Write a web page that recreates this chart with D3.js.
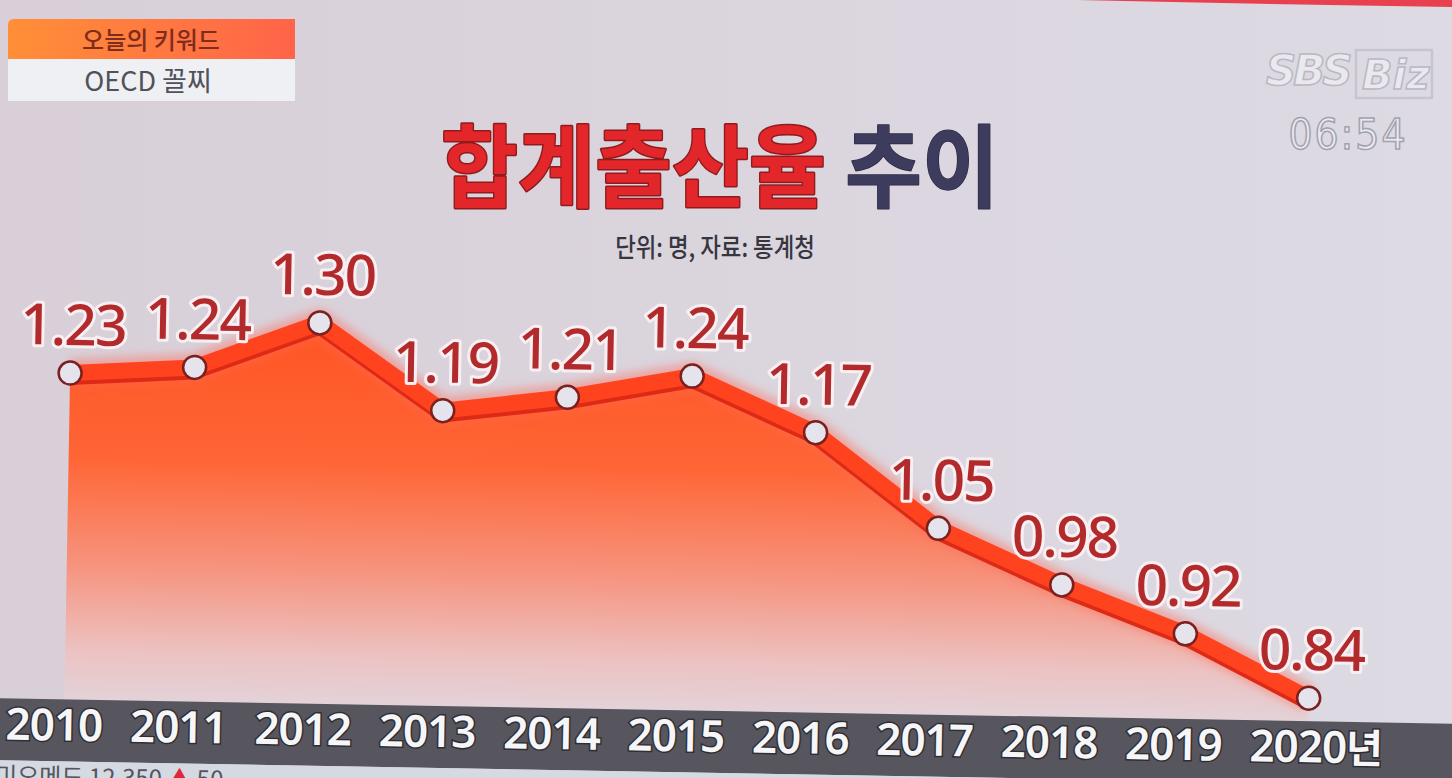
<!DOCTYPE html>
<html>
<head>
<meta charset="utf-8">
<script src="https://cdn.jsdelivr.net/npm/d3@7"></script>
<style>
body { margin: 0; background: #dbd5de; overflow: hidden; }
svg { display: block; }
</style>
</head>
<body>
<div id="chart-area"></div>
<script>

var width = 1452,
    height = 778;

var years = ["2010", "2011", "2012", "2013", "2014", "2015", "2016", "2017", "2018", "2019", "2020"];
var rates = [1.23, 1.24, 1.30, 1.19, 1.21, 1.24, 1.17, 1.05, 0.98, 0.92, 0.84];
var yearSuffix = "년";

var titleMain = "합계출산율";
var titleTail = " 추이";
var subtitle = "단위: 명, 자료: 통계청";
var keywordHead = "오늘의 키워드";
var keywordText = "OECD 꼴찌";

var data = years.map(function(y, i) { return {YEAR: y, RATE: rates[i]}; });

var baseY = 711;      // top of the year bar
var tilt = 1;         // photo of the screen is slightly rotated

var xScale = d3.scalePoint()
    .domain(years)
    .range([68, 1312]);

var yScale = d3.scaleLinear()
    .domain(d3.extent(rates))
    .range([688, 330]);

var formatRate = d3.format(".2f");

var lineGenerator = d3.line()
    .x(function(d) { return xScale(d.YEAR); })
    .y(function(d) { return yScale(d.RATE); });

var areaGenerator = d3.area()
    .x(function(d) { return xScale(d.YEAR); })
    .y0(baseY)
    .y1(function(d) { return yScale(d.RATE); });

var svg = d3.select("#chart-area").append("svg")
    .attr("width", width)
    .attr("height", height);

setup();
drawHeader();
drawChart();

function setup() {
    var defs = svg.append("defs");

    var bg = defs.append("linearGradient").attr("id", "bg-grad")
        .attr("x1", 0).attr("x2", 1).attr("y1", 0).attr("y2", 0);
    bg.append("stop").attr("offset", 0).attr("stop-color", "#d8cfd8");
    bg.append("stop").attr("offset", 1).attr("stop-color", "#dddae3");

    var fill = defs.append("linearGradient").attr("id", "area-grad")
        .attr("gradientUnits", "userSpaceOnUse")
        .attr("x1", 0).attr("x2", 0).attr("y1", 320).attr("y2", baseY);
    fill.append("stop").attr("offset", 0).attr("stop-color", "#ff5323");
    fill.append("stop").attr("offset", 0.38).attr("stop-color", "#ff6535");
    fill.append("stop").attr("offset", 0.66).attr("stop-color", "#f6947f");
    fill.append("stop").attr("offset", 0.88).attr("stop-color", "#ecc3c3");
    fill.append("stop").attr("offset", 1).attr("stop-color", "#e3d2d8");

    var kw = defs.append("linearGradient").attr("id", "kw-grad")
        .attr("x1", 0).attr("x2", 1).attr("y1", 0).attr("y2", 0);
    kw.append("stop").attr("offset", 0).attr("stop-color", "#ff8f37");
    kw.append("stop").attr("offset", 1).attr("stop-color", "#ff6449");

    defs.append("filter").attr("id", "glow")
        .attr("x", "-10%").attr("y", "-10%").attr("width", "120%").attr("height", "120%")
        .append("feGaussianBlur").attr("stdDeviation", 4);

    svg.append("rect")
        .attr("width", width).attr("height", height)
        .attr("fill", "url(#bg-grad)");

    // red strip along the top right edge
    svg.append("path")
        .attr("d", "M990,-2 L1452,-2 L1452,7 Q1200,3 990,-2 Z")
        .attr("fill", "#e8404e");
}

function drawHeader() {
    // keyword box, top left
    var kw = svg.append("g").attr("id", "keyword-group");
    kw.append("path")
        .attr("d", "M8,25 Q8,19 14,19 L295,19 L295,59 L8,59 Z")
        .attr("fill", "url(#kw-grad)");
    kw.append("rect")
        .attr("x", 8).attr("y", 59).attr("width", 287).attr("height", 42)
        .attr("fill", "#eef0f4");
    kw.append("text")
        .attr("x", 151).attr("y", 49)
        .attr("text-anchor", "middle")
        .style("font", "500 24px 'Noto Sans CJK KR'")
        .attr("fill", "#7e2c1c")
        .text(keywordHead);
    kw.append("text")
        .attr("x", 148).attr("y", 91)
        .attr("text-anchor", "middle")
        .style("font", "400 27px 'Noto Sans CJK KR'")
        .attr("fill", "#515159")
        .text(keywordText);

    // channel logo and clock
    var logo = svg.append("g").attr("id", "logo-group")
        .attr("fill", "#eae9ef").attr("stroke", "#b9b8c3").attr("stroke-width", 1.5);
    logo.append("text")
        .attr("x", 1266).attr("y", 85)
        .style("font", "italic 700 42px 'DejaVu Sans'")
        .attr("letter-spacing", -3)
        .text("SBS");
    logo.append("rect")
        .attr("x", 1356).attr("y", 50).attr("width", 76).attr("height", 48)
        .attr("fill", "none").attr("stroke", "#c6c5ce").attr("stroke-width", 2.5);
    logo.append("text")
        .attr("x", 1362).attr("y", 89)
        .style("font", "italic 700 40px 'DejaVu Sans'")
        .text("Biz");
    logo.append("text")
        .attr("x", 1348).attr("y", 149)
        .attr("text-anchor", "middle")
        .attr("stroke", "#a3a2ae")
        .style("font", "400 42px 'DejaVu Sans Condensed'")
        .attr("letter-spacing", 2)
        .text("06:54");

    // title
    var title = svg.append("text")
        .attr("transform", "translate(720,200) scale(0.93,1)")
        .attr("text-anchor", "middle")
        .style("font", "700 90px 'Noto Sans CJK KR'")
        .attr("paint-order", "stroke")
        .attr("stroke-linejoin", "round");
    title.append("tspan")
        .attr("fill", "#e3262a")
        .attr("stroke", "#8e1c1e").attr("stroke-width", 3)
        .text(titleMain);
    title.append("tspan")
        .attr("fill", "#3d3c5f")
        .attr("stroke", "#2a2a40").attr("stroke-width", 1.5)
        .text(titleTail);

    svg.append("text")
        .attr("transform", "translate(715,257) scale(0.86,1)")
        .attr("text-anchor", "middle")
        .style("font", "500 26px 'Noto Sans CJK KR'")
        .attr("fill", "#36363f")
        .text(subtitle);
}

function drawChart() {
    var chart = svg.append("g")
        .attr("id", "chart-svg")
        .attr("transform", "rotate(" + tilt + ",726,500)");

    chart.append("path")
        .datum(data)
        .attr("class", "area")
        .attr("d", areaGenerator)
        .attr("fill", "url(#area-grad)");

    // soft glow, dark lower edge, then the bright band
    chart.append("path")
        .datum(data)
        .attr("d", lineGenerator)
        .attr("fill", "none")
        .attr("stroke", "#ff6a58")
        .attr("stroke-opacity", 0.45)
        .attr("stroke-width", 28)
        .attr("stroke-linejoin", "round")
        .attr("filter", "url(#glow)");

    chart.append("path")
        .datum(data)
        .attr("d", lineGenerator)
        .attr("transform", "translate(0,5)")
        .attr("fill", "none")
        .attr("stroke", "#dc2a16")
        .attr("stroke-width", 14)
        .attr("stroke-linejoin", "round");

    chart.append("path")
        .datum(data)
        .attr("class", "line")
        .attr("d", lineGenerator)
        .attr("fill", "none")
        .attr("stroke", "#ff431f")
        .attr("stroke-width", 16)
        .attr("stroke-linejoin", "round");

    chart.append("g").attr("id", "point-group")
        .selectAll("circle")
        .data(data)
        .enter()
        .append("circle")
        .attr("cx", function(d) { return xScale(d.YEAR); })
        .attr("cy", function(d) { return yScale(d.RATE); })
        .attr("r", 11.5)
        .attr("fill", "#e5e3eb")
        .attr("stroke", "#7c1f1f")
        .attr("stroke-width", 2.5);

    chart.append("g").attr("id", "label-group")
        .selectAll("text")
        .data(data)
        .enter()
        .append("text")
        .attr("x", function(d) { return xScale(d.YEAR) + 2; })
        .attr("y", function(d) { return yScale(d.RATE) - 28; })
        .attr("text-anchor", "middle")
        .style("font", "500 57px 'Noto Sans'")
        .attr("letter-spacing", -2)
        .attr("fill", "#b32a2c")
        .attr("stroke", "#f7eff2")
        .attr("stroke-width", 6)
        .attr("stroke-linejoin", "round")
        .attr("paint-order", "stroke")
        .text(function(d) { return formatRate(d.RATE); });

    // year bar
    chart.append("rect")
        .attr("x", -40).attr("y", baseY)
        .attr("width", width + 80).attr("height", 62)
        .attr("fill", "#57555d");

    chart.append("rect")
        .attr("x", -40).attr("y", baseY + 62)
        .attr("width", width + 80).attr("height", 40)
        .attr("fill", "#d5d9e2");

    var ticker = chart.append("text")
        .attr("x", 0).attr("y", baseY + 86)
        .style("font", "400 24px 'Noto Sans CJK KR'")
        .attr("fill", "#55555e");
    ticker.append("tspan").text("미오메드   12,350   ");
    ticker.append("tspan").attr("fill", "#e0283a").text("▲");
    ticker.append("tspan").text(" 50");

    var yearLabels = chart.append("g").attr("id", "x-axis-group")
        .selectAll("text")
        .data(years)
        .enter()
        .append("text")
        .attr("x", function(d) { return xScale(d) - 10; })
        .attr("y", baseY + 41)
        .attr("text-anchor", "middle")
        .style("font", "600 44px 'Noto Sans'")
        .attr("letter-spacing", -1)
        .attr("fill", "#f6f6f8")
        .attr("stroke", "#2e2e34")
        .attr("stroke-width", 3)
        .attr("paint-order", "stroke")
        .text(function(d) { return d; });

    // unit suffix after the last year
    var lastNode = yearLabels.nodes()[years.length - 1];
    var lastW = lastNode.getComputedTextLength();
    chart.append("text")
        .attr("x", xScale(years[years.length - 1]) - 10 + lastW / 2)
        .attr("y", baseY + 41)
        .style("font", "600 40px 'Noto Sans CJK KR'")
        .attr("fill", "#f6f6f8")
        .attr("stroke", "#2e2e34")
        .attr("stroke-width", 3)
        .attr("paint-order", "stroke")
        .text(yearSuffix);
}

</script>
</body>
</html>
